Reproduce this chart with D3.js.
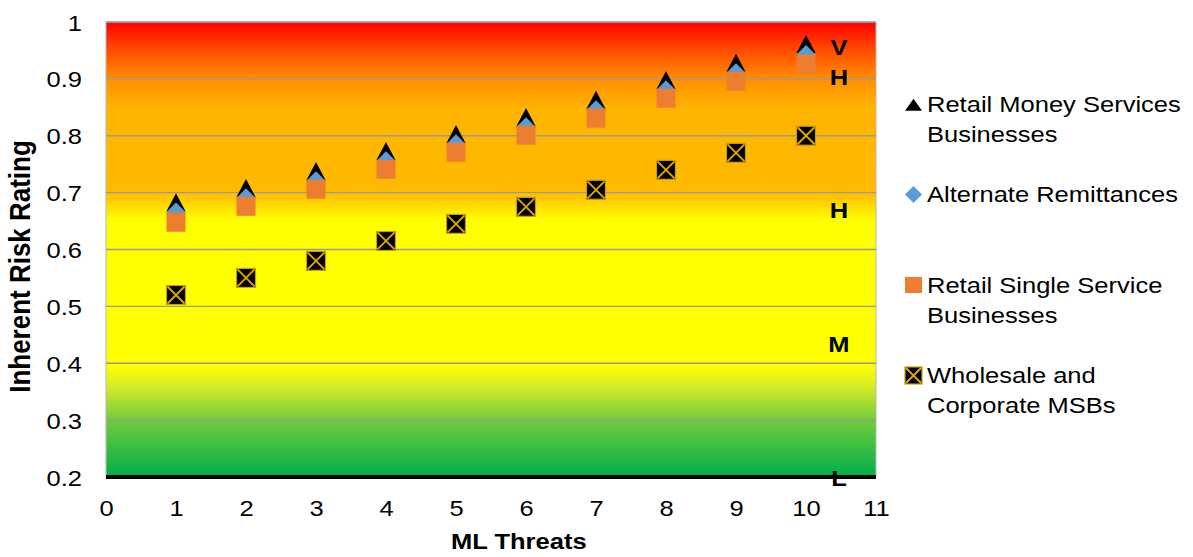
<!DOCTYPE html>
<html>
<head>
<meta charset="utf-8">
<script src="https://cdn.jsdelivr.net/npm/d3@7"></script>
<style>
  html, body { margin: 0; padding: 0; background: #fff; }
  svg { display: block; font-family: "Liberation Sans", Arial, sans-serif; }
</style>
</head>
<body>
<svg id="chart" width="1193" height="557"></svg>
<script>
// ML threat levels on the x axis
const threats = [1, 2, 3, 4, 5, 6, 7, 8, 9, 10];

// Inherent risk rating for each business type
const retailMoneyServices = [0.68, 0.705, 0.735, 0.77, 0.80, 0.83, 0.86, 0.895, 0.925, 0.958];
const alternateRemittances = [0.665, 0.69, 0.72, 0.755, 0.785, 0.815, 0.845, 0.88, 0.91, 0.942];
const retailSingleService = [0.648, 0.676, 0.706, 0.741, 0.771, 0.801, 0.831, 0.866, 0.896, 0.926];
const wholesaleCorporate = [0.52, 0.55, 0.58, 0.615, 0.645, 0.675, 0.705, 0.74, 0.77, 0.80];

// Axis ticks
const xTicks = [0, 1, 2, 3, 4, 5, 6, 7, 8, 9, 10, 11];
const yTicks = [0.2, 0.3, 0.4, 0.5, 0.6, 0.7, 0.8, 0.9, 1];

// Risk band labels along the right edge
const bandLabels = ["V", "H", "H", "M", "L"];
const bandValues = [0.956, 0.903, 0.669, 0.433, 0.199];

const legendNames = [
  ["Retail Money Services", "Businesses"],
  ["Alternate Remittances"],
  ["Retail Single Service", "Businesses"],
  ["Wholesale and", "Corporate MSBs"]
];

const svg = d3.select("#chart");
const plot = { left: 106, right: 876, top: 22, bottom: 477 };
const STRETCH = 1.16; // text is drawn slightly wide

const x = d3.scaleLinear().domain([0, 11]).range([plot.left, plot.right]);
const y = d3.scaleLinear().domain([0.2, 1]).range([plot.bottom, plot.top]);

// Adds a horizontally widened text at (px, py)
function wideText(parent, px, py, str, opts) {
  const g = parent.append("g").attr("transform", `translate(${px},${py}) scale(${STRETCH},1)`);
  const t = g.append("text").attr("x", 0).attr("y", 0)
    .attr("font-size", opts.size).attr("fill", "#000")
    .attr("text-anchor", opts.anchor || "start")
    .attr("font-weight", opts.weight || "normal")
    .text(str);
  return t;
}

// Background risk gradient
const defs = svg.append("defs");
const grad = defs.append("linearGradient")
  .attr("id", "riskGrad").attr("x1", 0).attr("y1", 0).attr("x2", 0).attr("y2", 1);
[
  [0, "#FF0000"],
  [0.06, "#FF4A00"],
  [0.125, "#FF8E00"],
  [0.19, "#FFB400"],
  [0.37, "#FFBA00"],
  [0.395, "#FFD000"],
  [0.435, "#FFFF00"],
  [0.755, "#FFFF00"],
  [0.80, "#D8EC28"],
  [0.875, "#70CC3C"],
  [1, "#00AE4C"]
].forEach(([o, c]) => grad.append("stop").attr("offset", o).attr("stop-color", c));

svg.append("rect")
  .attr("x", plot.left).attr("y", plot.top)
  .attr("width", plot.right - plot.left).attr("height", plot.bottom - plot.top)
  .attr("fill", "url(#riskGrad)")
  .attr("stroke", "#b8b8b8").attr("stroke-width", 1);

// Horizontal gridlines
svg.append("g")
  .selectAll("line")
  .data(yTicks.filter(d => d > 0.2))
  .join("line")
  .attr("x1", plot.left).attr("x2", plot.right)
  .attr("y1", d => y(d)).attr("y2", d => y(d))
  .attr("stroke", "#9a9a9a").attr("stroke-width", 1.3);

// Y axis (d3 axis for tick placement; labels drawn widened)
const yAxis = svg.append("g")
  .attr("transform", `translate(${plot.left},0)`)
  .call(d3.axisLeft(y).tickValues(yTicks).tickSize(0).tickFormat(""));
yAxis.select(".domain").remove();
const yFmt = d => d === 1 ? "1" : d3.format(".1f")(d);
yAxis.selectAll(".tick").each(function (d) {
  wideText(d3.select(this), -24, 8, yFmt(d), { size: 22, anchor: "end" });
});

// X axis
const xAxis = svg.append("g")
  .attr("transform", `translate(0,${plot.bottom})`)
  .call(d3.axisBottom(x).tickValues(xTicks).tickSize(0).tickFormat(""));
xAxis.select(".domain").remove();
xAxis.selectAll(".tick").each(function (d) {
  wideText(d3.select(this), 0, 39, d3.format("d")(d), { size: 22, anchor: "middle" });
});

// Thick baseline
svg.append("line")
  .attr("x1", plot.left).attr("x2", plot.right)
  .attr("y1", y(0.2)).attr("y2", y(0.2))
  .attr("stroke", "#000").attr("stroke-width", 4);

// Axis titles
wideText(svg, 451, 549, "ML Threats", { size: 22, weight: "bold", anchor: "start" });
svg.append("text")
  .attr("transform", `translate(30,${(plot.top + plot.bottom) / 2 + 17}) rotate(-90) scale(1,${STRETCH})`)
  .attr("text-anchor", "middle").attr("font-size", 26).attr("font-weight", "bold")
  .text("Inherent Risk Rating");

// Marker shapes
const triPath = (w, h) => `M0,${-h * 0.6} L${w / 2},${h * 0.4} L${-w / 2},${h * 0.4} Z`;
const diaPath = (w, h) => `M0,${-h / 2} L${w / 2},0 L0,${h / 2} L${-w / 2},0 Z`;

function drawTri(g, w, h) {
  g.append("path").attr("d", triPath(w, h)).attr("fill", "#000");
}
function drawDia(g, w, h) {
  g.append("path").attr("d", diaPath(w, h)).attr("fill", "#5B9BD5");
}
function drawSq(g, w, h) {
  g.append("rect").attr("x", -w / 2).attr("y", -h / 2).attr("width", w).attr("height", h)
    .attr("fill", "#ED7D31");
}
function drawX(g, w, h) {
  const a = w / 2, b = h / 2;
  g.append("rect").attr("x", -a).attr("y", -b).attr("width", w).attr("height", h)
    .attr("fill", "#000").attr("stroke", "#C9A000").attr("stroke-width", 1.2);
  g.append("path").attr("d", `M${-a + 1},${-b + 1} L${a - 1},${b - 1} M${a - 1},${-b + 1} L${-a + 1},${b - 1}`)
    .attr("stroke", "#E0A800").attr("stroke-width", 1.8).attr("fill", "none");
}

const series = [
  { values: retailMoneyServices, draw: drawTri, w: 19, h: 18 },
  { values: alternateRemittances, draw: drawDia, w: 20, h: 20 },
  { values: retailSingleService, draw: drawSq, w: 19, h: 19 },
  { values: wholesaleCorporate, draw: drawX, w: 19, h: 19 }
];

series.forEach(sr => {
  const g = svg.append("g");
  threats.forEach((t, i) => {
    const m = g.append("g").attr("transform", `translate(${x(t)},${y(sr.values[i])})`);
    sr.draw(m, sr.w, sr.h);
  });
});

// Risk band letters
const bandG = svg.append("g");
bandLabels.forEach((d, i) => {
  wideText(bandG, 839, y(bandValues[i]) + 8, d, { size: 22, weight: "bold", anchor: "middle" });
});

// Legend
const legendY = [112, 201.5, 293, 383];
const legendMarkY = [106, 194.5, 285, 375.5];
const legendDraw = [drawTri, drawDia, drawSq, drawX];
const legendW = [17, 17, 17, 17];
const legendH = [12, 17, 16, 17];
const legend = svg.append("g");
legendNames.forEach((lines, i) => {
  const m = legend.append("g").attr("transform", `translate(913.5,${legendMarkY[i]})`);
  legendDraw[i](m, legendW[i], legendH[i]);
  lines.forEach((ln, j) => {
    wideText(legend, 927, legendY[i] + j * 30, ln, { size: 22 });
  });
});
</script>
</body>
</html>
